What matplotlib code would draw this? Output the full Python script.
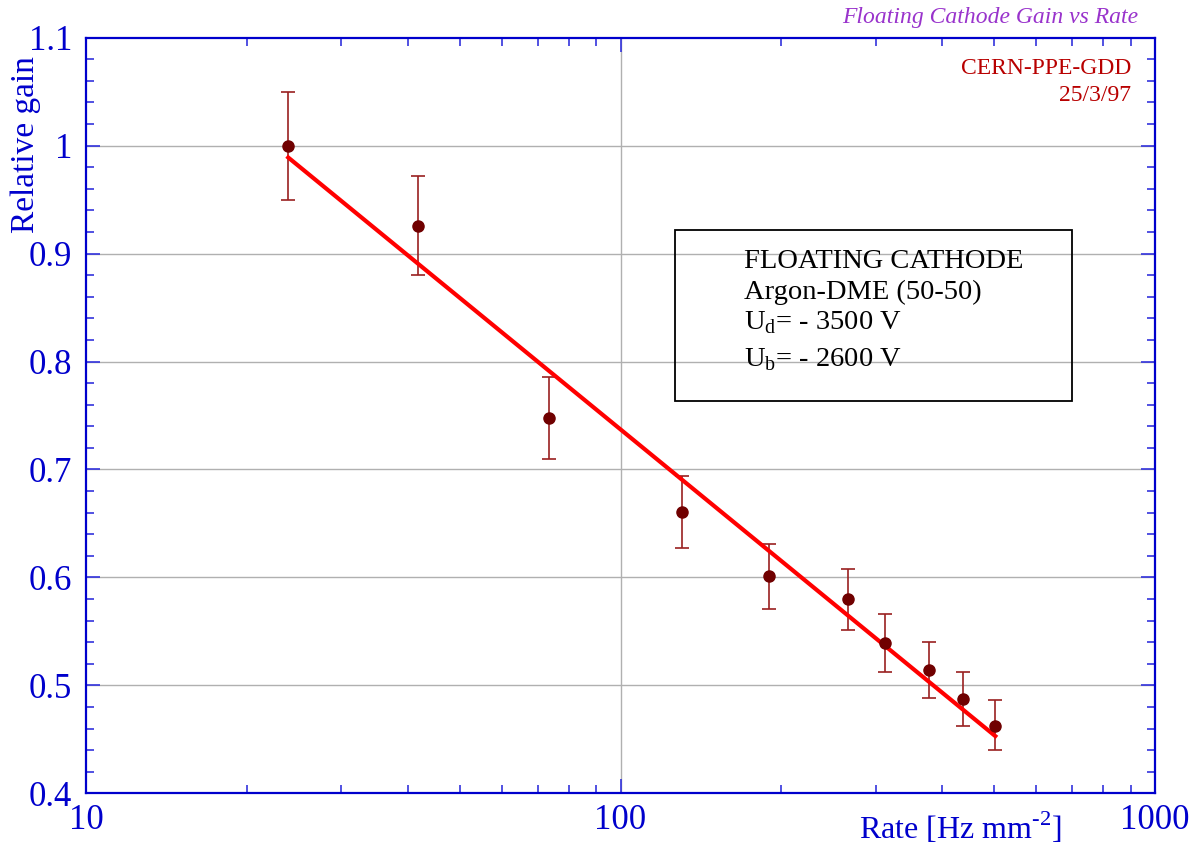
import numpy as np
import matplotlib.pyplot as plt
from matplotlib.ticker import FixedLocator, NullFormatter, FixedFormatter

## Data
rate = [23.9, 41.8, 73.4, 130.5, 189.7, 266.5, 313.0, 378.2, 436.8, 502.6]
gain = [1.000, 0.926, 0.748, 0.661, 0.601, 0.580, 0.539, 0.514, 0.487, 0.462]
err_hi = [1.050, 0.972, 0.786, 0.694, 0.631, 0.608, 0.566, 0.540, 0.512, 0.486]
err_lo = [0.950, 0.880, 0.710, 0.627, 0.571, 0.551, 0.512, 0.488, 0.462, 0.440]

fit_rate = [23.9, 502.6]   # fitted line endpoints
fit_gain = [0.989, 0.453]

x_ticks = [10, 100, 1000]
x_ticklabels = ["10", "100", "1000"]
y_ticks = [0.4, 0.5, 0.6, 0.7, 0.8, 0.9, 1.0, 1.1]
y_ticklabels = ["0.4", "0.5", "0.6", "0.7", "0.8", "0.9", "1", "1.1"]

plt.rcParams['font.family'] = ['Liberation Serif', 'DejaVu Serif']
plt.rcParams['mathtext.fontset'] = 'custom'
plt.rcParams['mathtext.rm'] = 'Liberation Serif'

blue = "#0000CC"
fig = plt.figure(figsize=(12.02, 8.49), dpi=100)
ax = fig.add_axes([86/1202, 1 - 793.3/849, (1155-86)/1202, (793.3-37.7)/849])

ax.set_xscale("log")
ax.set_xlim(10, 1000)
ax.set_ylim(0.4, 1.1)

# grid: horizontal at every 0.1, vertical only at 100
for yv in y_ticks[1:-1]:
    ax.axhline(yv, color="#b0b0b0", lw=1.0, zorder=0)
ax.axvline(100, color="#b0b0b0", lw=1.0, zorder=0)

g = np.array(gain)
yerr = [g - np.array(err_lo), np.array(err_hi) - g]
ax.errorbar(rate, gain, yerr=yerr, fmt="none", ecolor="#9A2020", elinewidth=1.2,
            capsize=5, capthick=1.2, zorder=2)
ax.plot(fit_rate, fit_gain, color="#FF0000", lw=3, zorder=3)
ax.plot(rate, gain, "o", color="#700000", ms=8, zorder=4)

# ticks
ax.xaxis.set_major_locator(FixedLocator(x_ticks))
ax.xaxis.set_major_formatter(FixedFormatter(x_ticklabels))
minor_x = [m * d for d in (10, 100) for m in range(2, 10)]
ax.xaxis.set_minor_locator(FixedLocator(minor_x))
ax.xaxis.set_minor_formatter(NullFormatter())
ax.yaxis.set_major_locator(FixedLocator(y_ticks))
ax.yaxis.set_major_formatter(FixedFormatter(y_ticklabels))
ax.yaxis.set_minor_locator(FixedLocator(np.arange(0.4, 1.1001, 0.02)))

ax.tick_params(which="both", direction="in", top=True, right=True, color="#3333DD", width=1.2)
ax.tick_params(which="major", length=10, labelsize=25, labelcolor=blue)
ax.tick_params(which="minor", length=6)
ax.tick_params(axis="x", pad=8)
ax.tick_params(axis="y", pad=10)
for lbl in ax.get_yticklabels():
    lbl.set_va("center_baseline")
for sp in ax.spines.values():
    sp.set_color(blue)
    sp.set_linewidth(1.6)

# axis labels
ax.text(-0.056, 0.859, "Relative gain", transform=ax.transAxes, rotation=90,
        ha="center", va="center", fontsize=24, color=blue)
ax.text(0.8176, -0.046, r"Rate [Hz mm$^{\text{-2}}$]", transform=ax.transAxes,
        ha="center", va="center", fontsize=23, color=blue)

# annotations
fig.text(1138/1202, 1 - 17/849, "Floating Cathode Gain vs Rate", ha="right", va="center",
         fontsize=17, style="italic", color="#9933CC")
ax.text(0.9775, 0.9586, "CERN-PPE-GDD", transform=ax.transAxes, ha="right", va="center",
        fontsize=17, color="#B80000")
ax.text(0.9775, 0.924, "25/3/97", transform=ax.transAxes, ha="right", va="center",
        fontsize=17, color="#B80000")

# info box
box = plt.Rectangle((675/1202, 1 - 401/849), (1072-675)/1202, (401-230)/849,
                    transform=fig.transFigure, fill=False, ec="black", lw=1.3)
fig.patches.append(box)
lines = ["FLOATING CATHODE", "Argon-DME (50-50)",
         r"U$_\mathregular{d}$= - 3500 V", r"U$_\mathregular{b}$= - 2600 V"]
ypos = [262, 292, 323, 360]
for txt, yp in zip(lines, ypos):
    fig.text(744/1202, 1 - yp/849, txt, ha="left", va="center", fontsize=20.5, color="black")

fig.savefig("out.png", dpi=100, facecolor="white")
